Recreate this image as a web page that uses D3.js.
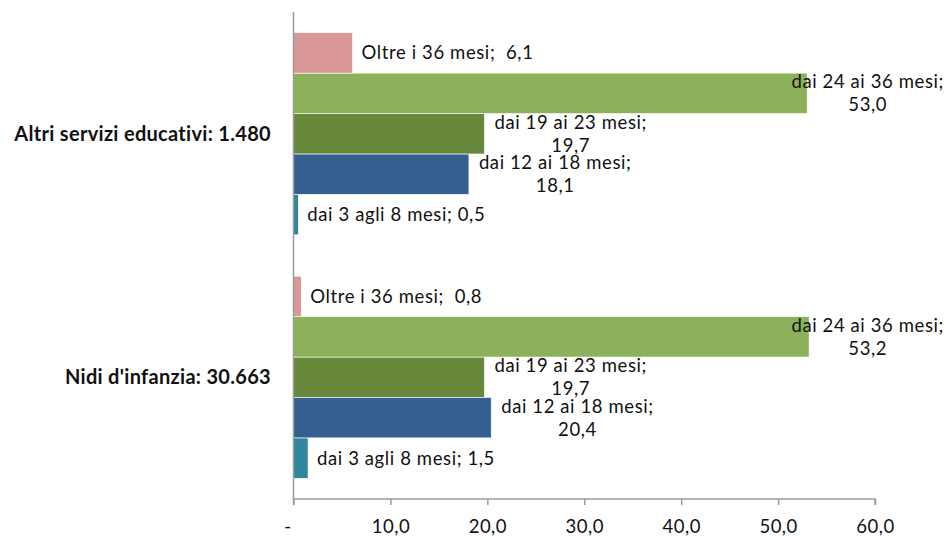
<!DOCTYPE html>
<html>
<head>
<meta charset="utf-8">
<script src="https://cdn.jsdelivr.net/npm/d3@7"></script>
<style>
  html, body { margin: 0; padding: 0; background: #fff; }
  svg { display: block; }
  text { font-family: Lato, "Open Sans", sans-serif; fill: #111; white-space: pre; }
</style>
</head>
<body>
<svg id="chart" width="946" height="536"></svg>
<script>
// Categories, listed top to bottom
const categories = ["Altri servizi educativi: 1.480", "Nidi d'infanzia: 30.663"];

// Age bands, in series order (first one drawn lowest in each group)
const seriesNames = ["dai 3 agli 8 mesi", "dai 12 ai 18 mesi", "dai 19 ai 23 mesi", "dai 24 ai 36 mesi", "Oltre i 36 mesi"];

// Percentages per age band
const altriValues = [0.5, 18.1, 19.7, 53.0, 6.1];
const nidiValues  = [1.5, 20.4, 19.7, 53.2, 0.8];

const seriesColors = ["#31859c", "#365f91", "#67883b", "#8bb25a", "#d99795"];

const xTickValues = [0, 10, 20, 30, 40, 50, 60];

const valuesByCategory = [altriValues, nidiValues];

const svg = d3.select("#chart");
const plot = { left: 293.5, right: 875, top: 12, bottom: 499 };
const chartRight = 944;
const fontStack = "Lato, 'Open Sans', sans-serif";

const fmt = v => v.toFixed(1).replace(".", ",");
const tickFmt = v => v === 0 ? "-" : fmt(v);

const x = d3.scaleLinear().domain([0, 60]).range([plot.left, plot.right]);

const y = d3.scaleBand()
  .domain(categories)
  .range([plot.top, plot.bottom])
  .paddingInner(0.17)
  .paddingOuter(0.085);

// Series inside each band: last series at the top
const ySeries = d3.scaleBand()
  .domain(seriesNames.slice().reverse())
  .range([0, y.bandwidth()])
  .padding(0);

const rows = [];
categories.forEach((cat, ci) => {
  seriesNames.forEach((name, si) => {
    rows.push({ cat, name, si, value: valuesByCategory[ci][si] });
  });
});

// Bars
svg.append("g").selectAll("rect")
  .data(rows)
  .join("rect")
  .attr("x", x(0))
  .attr("y", d => y(d.cat) + ySeries(d.name))
  .attr("width", d => x(d.value) - x(0))
  .attr("height", ySeries.bandwidth())
  .attr("fill", d => seriesColors[d.si])
  .attr("stroke", "#ffffff")
  .attr("stroke-width", 0.6);

// Value axis
const xAxis = d3.axisBottom(x)
  .tickValues(xTickValues)
  .tickFormat(tickFmt)
  .tickSize(6)
  .tickPadding(15);

const gx = svg.append("g")
  .attr("transform", `translate(0,${plot.bottom})`)
  .call(xAxis);
gx.select(".domain").attr("stroke", "#9c9c9c").attr("stroke-width", 1.5)
  .attr("d", `M${x(0)},6V0H${x(60)}V6`);
gx.selectAll(".tick line").attr("stroke", "#9c9c9c").attr("stroke-width", 1.5);
gx.selectAll(".tick text")
  .attr("font-size", 18.5)
  .attr("letter-spacing", 0.5)
  .style("font-family", fontStack)
  .attr("fill", "#111");
gx.selectAll(".tick").filter(d => d === 0).select("text").attr("dx", -6);

// Category axis line
svg.append("line")
  .attr("x1", x(0)).attr("x2", x(0))
  .attr("y1", plot.top).attr("y2", plot.bottom)
  .attr("stroke", "#9c9c9c").attr("stroke-width", 1.5);

// Category labels
svg.append("g").selectAll("text")
  .data(categories)
  .join("text")
  .attr("x", 271)
  .attr("y", d => y(d) + y.bandwidth() / 2)
  .attr("dy", "0.35em")
  .attr("text-anchor", "end")
  .attr("font-size", 20)
  .attr("letter-spacing", 0.3)
  .attr("font-weight", "bold")
  .text(d => d);

// Data labels: "series; value", wrapped onto two lines when too long
const labelSize = 18.5;
const labelSpacing = 0.6;
const wrapWidth = 182;
const lineGap = 23;
const labels = svg.append("g");

rows.forEach(d => {
  const cy = y(d.cat) + ySeries(d.name) + ySeries.bandwidth() / 2;
  const barEnd = x(d.value);
  const sep = d.si === seriesNames.length - 1 ? ";  " : "; ";
  const single = labels.append("text")
    .attr("font-size", labelSize)
    .attr("letter-spacing", labelSpacing)
    .attr("dy", "0.35em")
    .text(`${d.name}${sep}${fmt(d.value)}`);
  const w = single.node().getComputedTextLength();
  if (w <= wrapWidth && barEnd + 9 + w <= chartRight) {
    single.attr("x", barEnd + 9).attr("y", cy);
  } else {
    single.remove();
    const lines = [`${d.name};`, fmt(d.value)];
    const t = labels.append("text")
      .attr("font-size", labelSize)
      .attr("letter-spacing", labelSpacing)
      .attr("text-anchor", "middle");
    const spans = lines.map((s, i) => t.append("tspan")
      .attr("y", cy + (i - 0.5) * lineGap)
      .attr("dy", "0.35em")
      .text(s));
    const blockW = d3.max(spans, s => s.node().getComputedTextLength());
    const left = Math.min(barEnd + 10, chartRight - blockW);
    spans.forEach(s => s.attr("x", left + blockW / 2));
  }
});
</script>
</body>
</html>
